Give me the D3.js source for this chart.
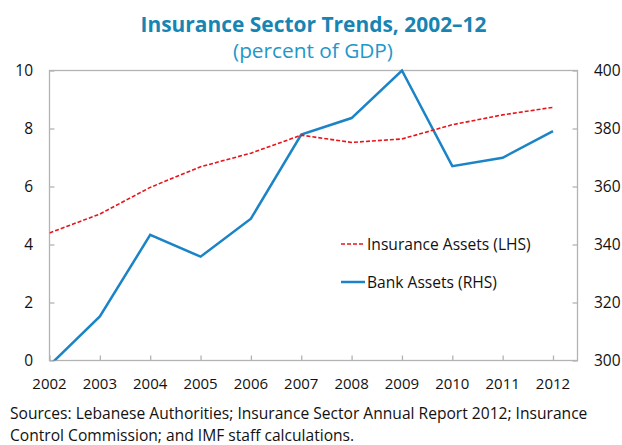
<!DOCTYPE html>
<html>
<head>
<meta charset="utf-8">
<script src="https://cdn.jsdelivr.net/npm/d3@7"></script>
<style>
  body { margin: 0; background: #fff; }
  svg { display: block; font-family: "Open Sans", "Noto Sans", sans-serif; }
</style>
</head>
<body>
<div class="chart"></div>
<script>
// Values
var years = [2002, 2003, 2004, 2005, 2006, 2007, 2008, 2009, 2010, 2011, 2012];
var insuranceAssets = [4.40, 5.05, 5.97, 6.68, 7.15, 7.77, 7.52, 7.64, 8.13, 8.47, 8.73];
var bankAssets = [298.3, 315.2, 343.3, 335.8, 348.9, 377.9, 383.6, 400.0, 367.0, 369.9, 379.1];
var leftTicks = [0, 2, 4, 6, 8, 10];
var rightTicks = [300, 320, 340, 360, 380, 400];
var legendLabels = ["Insurance Assets (LHS)", "Bank Assets (RHS)"];
var sourceLines = [
  "Sources: Lebanese Authorities; Insurance Sector Annual Report 2012; Insurance",
  "Control Commission; and IMF staff calculations."
];

var width = 622;
var height = 445;
var plot = { left: 49.5, right: 577.5, top: 70.5, bottom: 360.5 };
var axisColor = "#b3b3b3";
var blue = "#1b84c6";
var red = "#e8141c";

var svg = d3.select(".chart")
  .append("svg")
  .attr("width", width)
  .attr("height", height);

// Scales
var xScale = d3.scaleLinear()
  .domain([2002, 2012])
  .range([plot.left, 553]);

var yLeft = d3.scaleLinear()
  .domain([0, 10])
  .range([plot.bottom, plot.top]);

var yRight = d3.scaleLinear()
  .domain([300, 400])
  .range([plot.bottom, plot.top]);

// Title
svg.append("text")
  .attr("x", 313.5)
  .attr("y", 32)
  .attr("text-anchor", "middle")
  .attr("font-size", 21)
  .attr("font-weight", "bold")
  .attr("fill", "#1785b3")
  .attr("textLength", 346)
  .attr("lengthAdjust", "spacingAndGlyphs")
  .text("Insurance Sector Trends, 2002\u201312");

svg.append("text")
  .attr("x", 313)
  .attr("y", 58)
  .attr("text-anchor", "middle")
  .attr("font-size", 20)
  .attr("fill", "#2297c9")
  .attr("textLength", 160)
  .attr("lengthAdjust", "spacingAndGlyphs")
  .text("(percent of GDP)");

// Frame around the plot
var frame = svg.append("g").attr("stroke", axisColor).attr("stroke-width", 1.3).attr("fill", "none");
frame.append("rect")
  .attr("x", plot.left)
  .attr("y", plot.top)
  .attr("width", plot.right - plot.left)
  .attr("height", plot.bottom - plot.top);

// Left axis (ticks inside)
var leftAxis = d3.axisRight(yLeft).tickValues(leftTicks).tickSize(5).tickFormat("");
svg.append("g")
  .attr("transform", `translate(${plot.left},0)`)
  .call(leftAxis)
  .call(function (g) {
    g.select(".domain").remove();
    g.selectAll("line").attr("stroke", axisColor).attr("stroke-width", 1.3);
  });

svg.append("g")
  .selectAll("text")
  .data(leftTicks).enter()
  .append("text")
  .attr("x", 33)
  .attr("y", function (d) { return yLeft(d) + 5.5; })
  .attr("text-anchor", "end")
  .attr("font-size", 15.5)
  .attr("fill", "#111")
  .text(function (d) { return d; });

// Right axis (ticks inside)
var rightAxis = d3.axisLeft(yRight).tickValues(rightTicks).tickSize(5).tickFormat("");
svg.append("g")
  .attr("transform", `translate(${plot.right},0)`)
  .call(rightAxis)
  .call(function (g) {
    g.select(".domain").remove();
    g.selectAll("line").attr("stroke", axisColor).attr("stroke-width", 1.3);
  });

svg.append("g")
  .selectAll("text")
  .data(rightTicks).enter()
  .append("text")
  .attr("x", 594)
  .attr("y", function (d) { return yRight(d) + 5.5; })
  .attr("text-anchor", "start")
  .attr("font-size", 15.5)
  .attr("fill", "#111")
  .text(function (d) { return d; });

// Bottom axis (ticks inside)
var xAxis = d3.axisTop(xScale).tickValues(years).tickSize(5).tickFormat("");
svg.append("g")
  .attr("transform", `translate(0,${plot.bottom})`)
  .call(xAxis)
  .call(function (g) {
    g.select(".domain").remove();
    g.selectAll("line").attr("stroke", axisColor).attr("stroke-width", 1.3);
  });

svg.append("g")
  .selectAll("text")
  .data(years).enter()
  .append("text")
  .attr("x", function (d) { return xScale(d); })
  .attr("y", 389)
  .attr("text-anchor", "middle")
  .attr("font-size", 15)
  .attr("fill", "#111")
  .text(function (d) { return d; });

// Clip so the bank line below 300 is cut at the axis
svg.append("clipPath")
  .attr("id", "plot-clip")
  .append("rect")
  .attr("x", plot.left)
  .attr("y", plot.top - 3)
  .attr("width", plot.right - plot.left)
  .attr("height", plot.bottom - plot.top + 3);

var lineLeft = d3.line()
  .x(function (d, i) { return xScale(years[i]); })
  .y(function (d) { return yLeft(d); });

var lineRight = d3.line()
  .x(function (d, i) { return xScale(years[i]); })
  .y(function (d) { return yRight(d); });

var lines = svg.append("g").attr("clip-path", "url(#plot-clip)");

lines.append("path")
  .attr("d", lineRight(bankAssets))
  .attr("fill", "none")
  .attr("stroke", blue)
  .attr("stroke-width", 2.5)
  .attr("stroke-linejoin", "miter");

lines.append("path")
  .attr("d", lineLeft(insuranceAssets))
  .attr("fill", "none")
  .attr("stroke", red)
  .attr("stroke-width", 1.6)
  .attr("stroke-dasharray", "4,2");

// Legend
var legend = svg.append("g");
var legendY = [244, 282];
legend.selectAll("line")
  .data(legendLabels).enter()
  .append("line")
  .attr("x1", 341)
  .attr("x2", 365)
  .attr("y1", function (d, i) { return legendY[i]; })
  .attr("y2", function (d, i) { return legendY[i]; })
  .attr("stroke", function (d, i) { return i == 0 ? red : blue; })
  .attr("stroke-width", function (d, i) { return i == 0 ? 1.6 : 2.5; })
  .attr("stroke-dasharray", function (d, i) { return i == 0 ? "4,2" : null; });

legend.selectAll("text")
  .data(legendLabels).enter()
  .append("text")
  .attr("x", 367)
  .attr("y", function (d, i) { return legendY[i] + 5.5; })
  .attr("font-size", 15.6)
  .attr("fill", "#111")
  .text(function (d) { return d; });

// Sources note
svg.append("g")
  .selectAll("text")
  .data(sourceLines).enter()
  .append("text")
  .attr("x", 10)
  .attr("y", function (d, i) { return 419 + i * 22; })
  .attr("font-size", 15.6)
  .attr("fill", "#111")
  .text(function (d) { return d; });
</script>
</body>
</html>
